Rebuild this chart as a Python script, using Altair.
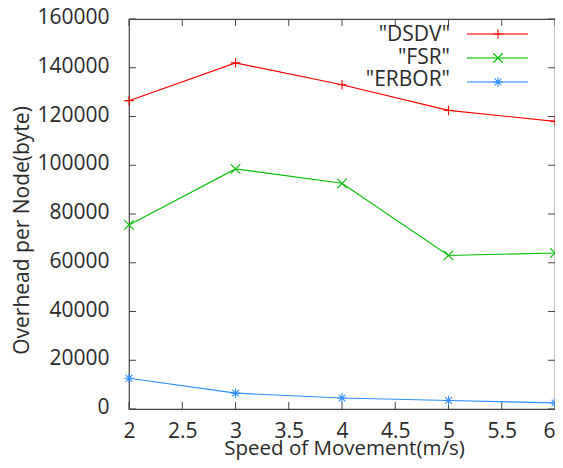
import altair as alt
import pandas as pd

speeds = [2, 3, 4, 5, 6]
dsdv = [126500, 142000, 133000, 122500, 118000]
fsr = [75500, 98500, 92600, 63000, 64000]
erbor = [12600, 6500, 4500, 3500, 2500]

series_names = ['"DSDV"', '"FSR"', '"ERBOR"']
series_colors = ["#ff0000", "#00c000", "#2f8fff"]
shape_paths = [
    "M-1,0L1,0M0,-1L0,1",
    "M-1,-1L1,1M-1,1L1,-1",
    "M-1,0L1,0M0,-1L0,1M-0.7,-0.7L0.7,0.7M-0.7,0.7L0.7,-0.7",
]

x_ticks = [2, 2.5, 3, 3.5, 4, 4.5, 5, 5.5, 6]
y_ticks = [0, 20000, 40000, 60000, 80000, 100000, 120000, 140000, 160000]

rows = []
for name, vals in zip(series_names, [dsdv, fsr, erbor]):
    for s, v in zip(speeds, vals):
        rows.append({"series": name, "speed": s, "overhead": v})
df = pd.DataFrame(rows)

W, H = 426, 390
FONT = "Open Sans"
FS = 21
TXT = "#2a2a2a"

x_scale = alt.Scale(domain=[2, 6], nice=False, zero=False)
y_scale = alt.Scale(domain=[0, 160000], nice=False)
color_scale = alt.Scale(domain=series_names, range=series_colors)
shape_scale = alt.Scale(domain=series_names, range=shape_paths)

x_enc = alt.X(
    "speed:Q", scale=x_scale,
    axis=alt.Axis(values=x_ticks, format="~g", title="Speed of Movement(m/s)",
                  grid=False, domain=False, ticks=False, labelFlush=False,
                  labelAlign={"condition": {"test": "datum.value >= 6", "value": "right"},
                              "value": "center"},
                  labelBaseline="alphabetic", labelPadding=28,
                  labelFont=FONT, labelFontSize=FS, labelColor=TXT,
                  titleFont=FONT, titleFontSize=20.5, titleFontWeight="normal", titleColor=TXT,
                  titleBaseline="alphabetic", titleY=45, titleX=W / 2 + 2),
)
y_enc = alt.Y(
    "overhead:Q", scale=y_scale,
    axis=alt.Axis(values=y_ticks, format="d", title="Overhead per Node(byte)",
                  grid=False, domain=False, ticks=False, labelFlush=False,
                  labelPadding=20, labelAlign="right", labelBaseline="middle",
                  labelOffset=-1.5,
                  labelFont=FONT, labelFontSize=FS, labelColor=TXT,
                  titleFont=FONT, titleFontSize=FS, titleFontWeight="normal", titleColor=TXT,
                  titleAngle=-90, titleAlign="center", titleBaseline="alphabetic",
                  titleX=-101, titleY=211),
)

base = alt.Chart(df)
lines = base.mark_line(strokeWidth=1.1).encode(
    x=x_enc, y=y_enc,
    color=alt.Color("series:N", scale=color_scale, legend=None),
    detail="series:N",
)
points = base.mark_point(filled=False, strokeWidth=1.1, size=90, opacity=1).encode(
    x=alt.X("speed:Q", scale=x_scale),
    y=alt.Y("overhead:Q", scale=y_scale),
    color=alt.Color("series:N", scale=color_scale, legend=None),
    shape=alt.Shape("series:N", scale=shape_scale, legend=None),
)

xt = pd.DataFrame({"t": x_ticks})
yt = pd.DataFrame({"t": y_ticks})
tick_color = "#444444"
TL = 7
xticks_bottom = alt.Chart(xt).mark_rule(color=tick_color, strokeWidth=1).encode(
    x=alt.X("t:Q", scale=x_scale), y=alt.value(H), y2=alt.value(H - TL))
xticks_top = alt.Chart(xt).mark_rule(color=tick_color, strokeWidth=1).encode(
    x=alt.X("t:Q", scale=x_scale), y=alt.value(0), y2=alt.value(TL))
yticks_left = alt.Chart(yt).mark_rule(color=tick_color, strokeWidth=1).encode(
    y=alt.Y("t:Q", scale=y_scale), x=alt.value(0), x2=alt.value(TL))
yticks_right = alt.Chart(yt).mark_rule(color=tick_color, strokeWidth=1).encode(
    y=alt.Y("t:Q", scale=y_scale), x=alt.value(W), x2=alt.value(W - TL))

legend_layers = []
line_y = [15, 39, 63]
text_y = [22, 45, 67]
for name, col, path, ly, ty in zip(series_names, series_colors, shape_paths, line_y, text_y):
    ldf = pd.DataFrame({"s": [name]})
    legend_layers.append(
        alt.Chart(ldf).mark_text(align="right", baseline="alphabetic", font=FONT,
                                 fontSize=FS, color=TXT).encode(
            x=alt.value(321), y=alt.value(ty), text="s:N"))
    legend_layers.append(
        alt.Chart(ldf).mark_rule(color=col, strokeWidth=1.6, opacity=0.75).encode(
            x=alt.value(338), x2=alt.value(399), y=alt.value(ly)))
    legend_layers.append(
        alt.Chart(ldf).mark_point(shape=path, filled=False, color=col, size=90,
                                  strokeWidth=1.1, opacity=1).encode(
            x=alt.value(369), y=alt.value(ly)))

chart = alt.layer(
    xticks_bottom, xticks_top, yticks_left, yticks_right,
    lines, points, *legend_layers,
).properties(
    width=W, height=H,
    autosize=alt.AutoSizeParams(type="none"),
    padding={"left": 121, "top": 11, "right": 0, "bottom": 51},
    background="white",
).configure_view(
    stroke="#444444", strokeWidth=1.2,
)

chart.save("out.html", embed_options={"renderer": "svg", "actions": False})
